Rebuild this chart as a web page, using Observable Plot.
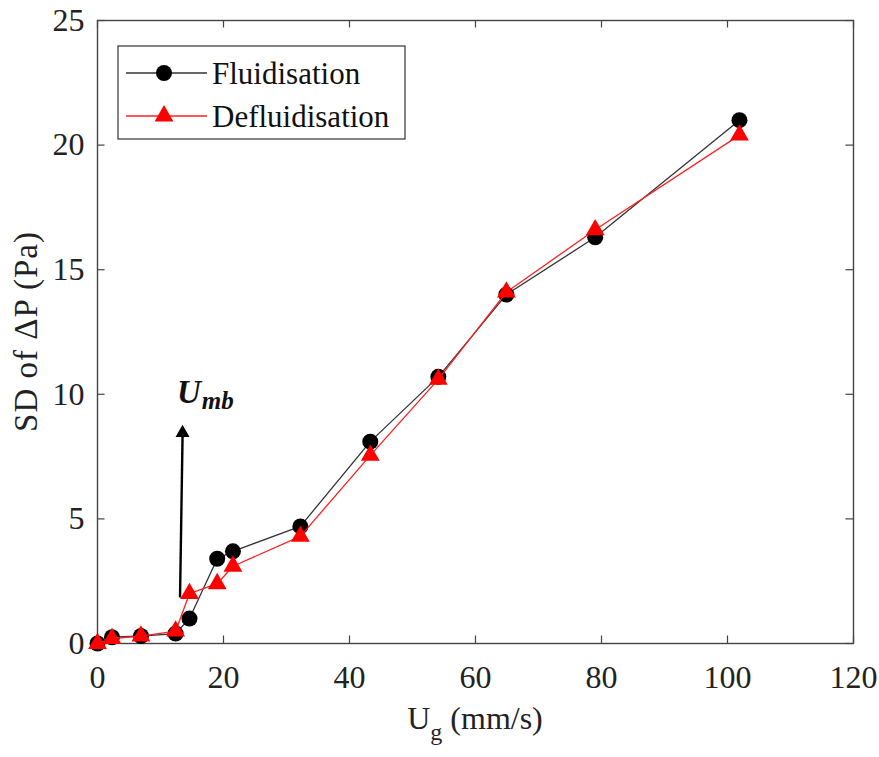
<!DOCTYPE html>
<html>
<head>
<meta charset="utf-8">
<script src="https://cdn.jsdelivr.net/npm/d3@7"></script>
<script src="https://cdn.jsdelivr.net/npm/@observablehq/plot@0.6"></script>
<style>
  html, body { margin: 0; padding: 0; background: #fff; }
  #chart { width: 879px; height: 757px; }
</style>
</head>
<body>
<div id="chart"></div>
<script>
// ---- data ----
const ug = [0, 2.3, 6.9, 12.4, 14.6, 19.0, 21.5, 32.2, 43.3, 54.1, 64.9, 79.0, 101.9];
const fluidisation = [0, 0.25, 0.3, 0.4, 1.0, 3.4, 3.7, 4.7, 8.1, 10.7, 14.0, 16.3, 21.0];
const defluidisation = [0, 0.2, 0.3, 0.5, 2.0, 2.4, 3.1, 4.3, 7.55, 10.6, 14.1, 16.6, 20.4];
const xTicks = [0, 20, 40, 60, 80, 100, 120];
const yTicks = [0, 5, 10, 15, 20, 25];
const seriesNames = ["Fluidisation", "Defluidisation"];
// annotation: arrow marking U_mb
const arrowStart = {x: 13.1, y: 1.85};
const arrowEnd = {x: 13.5, y: 8.75};
const umbLabel = {x: 12.7, y: 9.64};

const fl = ug.map((x, i) => ({x, y: fluidisation[i]}));
const df = ug.map((x, i) => ({x, y: defluidisation[i]}));

const FONT = "'Liberation Serif', 'Times New Roman', serif";

const plot = Plot.plot({
  width: 879,
  height: 757,
  marginLeft: 97,
  marginRight: 26,
  marginTop: 20,
  marginBottom: 114,
  style: {fontFamily: FONT, fontSize: "32px", color: "#222", background: "#fff"},
  x: {domain: [0, 120]},
  y: {domain: [0, 25]},
  marks: [
    Plot.axisX({ticks: xTicks, tickSize: 0, tickPadding: 22, label: null, fontSize: 32, tickFormat: d => d}),
    Plot.axisY({ticks: yTicks, tickSize: 0, tickPadding: 13, label: null, fontSize: 32, tickFormat: d => d}),
    // inward ticks on all four sides
    Plot.ruleX(xTicks, {x: d => d, y1: 0, y2: 0.3, stroke: "#444", strokeWidth: 1.2}),
    Plot.ruleX(xTicks, {x: d => d, y1: 25, y2: 24.7, stroke: "#444", strokeWidth: 1.2}),
    Plot.ruleY(yTicks, {y: d => d, x1: 0, x2: 1.2, stroke: "#444", strokeWidth: 1.2}),
    Plot.ruleY(yTicks, {y: d => d, x1: 120, x2: 118.8, stroke: "#444", strokeWidth: 1.2}),
    Plot.frame({stroke: "#444", strokeWidth: 1.4}),
    // annotation arrow
    Plot.link([0], {x1: () => arrowStart.x, y1: () => arrowStart.y, x2: () => arrowEnd.x, y2: () => arrowEnd.y - 0.45, stroke: "#000", strokeWidth: 2.4}),
    Plot.dot([0], {x: () => arrowEnd.x, y: () => arrowEnd.y - 0.3, symbol: "triangle", r: 5.2, fill: "#000"}),
    // series
    Plot.line(fl, {x: "x", y: "y", stroke: "#333", strokeWidth: 1.3}),
    Plot.dot(fl, {x: "x", y: "y", r: 8, fill: "#000", symbol: "circle"}),
    Plot.line(df, {x: "x", y: "y", stroke: "#ff2020", strokeWidth: 1.3}),
    Plot.dot(df, {x: "x", y: "y", r: 7, fill: "#ff0000", symbol: "triangle"})
  ]
});
document.getElementById("chart").appendChild(plot);

const svg = d3.select(plot);
const sx = plot.scale("x"), sy = plot.scale("y");

// Axis titles
const xt = svg.append("text")
  .attr("x", (sx.apply(0) + sx.apply(120)) / 2)
  .attr("y", 729)
  .attr("text-anchor", "middle")
  .style("font-family", FONT).style("font-size", "32px").attr("fill", "#222");
xt.append("tspan").text("U");
xt.append("tspan").attr("dy", 11).style("font-size", "24px").text("g");
xt.append("tspan").attr("dy", -11).text(" (mm/s)");

svg.append("text")
  .attr("transform", `translate(37,${(sy.apply(0) + sy.apply(25)) / 2}) rotate(-90)`)
  .attr("text-anchor", "middle")
  .style("font-family", FONT).style("font-size", "33px").style("letter-spacing", "1px").attr("fill", "#222")
  .text("SD of \u0394P (Pa)");

// U_mb label
const ut = svg.append("text")
  .attr("x", sx.apply(umbLabel.x))
  .attr("y", sy.apply(umbLabel.y))
  .attr("text-anchor", "start")
  .style("font-family", FONT).style("font-weight", "bold").style("font-style", "italic")
  .style("font-size", "33px").attr("fill", "#111");
ut.append("tspan").text("U");
ut.append("tspan").attr("dy", 6).attr("dx", 1).style("font-size", "25px").text("mb");

// Legend box
const lg = svg.append("g").attr("transform", "translate(118,46)");
lg.append("rect").attr("width", 287).attr("height", 93).attr("fill", "#fff").attr("stroke", "#333").attr("stroke-width", 1.2);
const items = [
  {name: seriesNames[0], color: "#333", fill: "#000", sym: d3.symbolCircle, size: Math.PI * 64, y: 27},
  {name: seriesNames[1], color: "#ff2020", fill: "#ff0000", sym: d3.symbolTriangle, size: Math.PI * 49, y: 70}
];
for (const it of items) {
  lg.append("line").attr("x1", 8).attr("x2", 89).attr("y1", it.y).attr("y2", it.y).attr("stroke", it.color).attr("stroke-width", 1.3);
  lg.append("path").attr("d", d3.symbol(it.sym, it.size)()).attr("transform", `translate(46,${it.y})`).attr("fill", it.fill);
  lg.append("text").attr("x", 94).attr("y", it.y + 11).attr("text-anchor", "start")
    .style("font-family", FONT).style("font-size", "31px").attr("fill", "#111").text(it.name);
}
</script>
</body>
</html>
